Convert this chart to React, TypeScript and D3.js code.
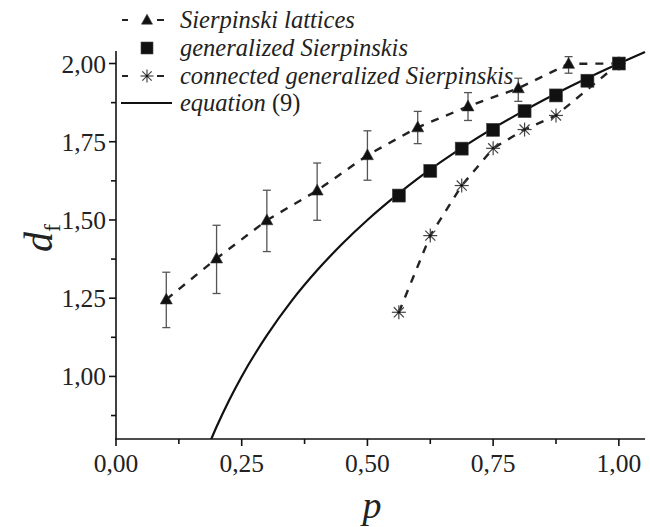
import React from "react";
import * as d3 from "d3";

const latticeP = [0.1, 0.2, 0.3, 0.4, 0.5, 0.6, 0.7, 0.8, 0.9, 1.0];
const latticeD = [1.246, 1.377, 1.499, 1.594, 1.707, 1.796, 1.863, 1.921, 1.999, 2.0];
const latticeLo = [1.156, 1.265, 1.399, 1.499, 1.627, 1.744, 1.818, 1.879, 1.969, 2.0];
const latticeHi = [1.333, 1.483, 1.595, 1.682, 1.785, 1.847, 1.907, 1.953, 2.022, 2.0];

const genP = [0.5625, 0.625, 0.6875, 0.75, 0.8125, 0.875, 0.9375, 1.0];
const genD = [1.578, 1.657, 1.728, 1.788, 1.848, 1.898, 1.945, 2.0];

const connP = [0.5625, 0.625, 0.6875, 0.75, 0.8125, 0.875, 1.0];
const connD = [1.205, 1.45, 1.61, 1.729, 1.789, 1.834, 2.0];

const eqP = [0.189, 0.2, 0.225, 0.25, 0.3, 0.35, 0.4, 0.45, 0.5, 0.5625, 0.6, 0.7, 0.8, 0.9, 1.0, 1.052];
const eqD = [0.798, 0.839, 0.924, 1.0, 1.131, 1.243, 1.339, 1.424, 1.5, 1.585, 1.632, 1.743, 1.839, 1.924, 2.0, 2.037];

const xTicks = [0, 0.25, 0.5, 0.75, 1.0];
const xTickLabels = ["0,00", "0,25", "0,50", "0,75", "1,00"];
const xMinor = [0.125, 0.375, 0.625, 0.875];
const yTicks = [1.0, 1.25, 1.5, 1.75, 2.0];
const yTickLabels = ["1,00", "1,25", "1,50", "1,75", "2,00"];
const yMinor = [0.875, 1.125, 1.375, 1.625, 1.875];

const legendLabels = ["Sierpinski lattices", "generalized Sierpinskis", "connected generalized Sierpinskis", "equation"];

const tf = { fontFamily: '"Liberation Serif", monospace' };

const Triangle = ({ x, y, s = 6 }: { x: number; y: number; s?: number }) => (
  <path d={`M${x},${y - s * 1.05} L${x + s},${y + s * 0.75} L${x - s},${y + s * 0.75} Z`} fill="#111" stroke="#333" strokeWidth={0.6} />
);
const Square = ({ x, y, s = 6.5 }: { x: number; y: number; s?: number }) => (
  <rect x={x - s} y={y - s} width={2 * s} height={2 * s} fill="#111" stroke="#444" strokeWidth={0.6} />
);
const Asterisk = ({ x, y, r = 7 }: { x: number; y: number; r?: number }) => {
  const d = r * 0.72;
  return (
    <g stroke="#444" strokeWidth={1.2}>
      <line x1={x - r} y1={y} x2={x + r} y2={y} />
      <line x1={x} y1={y - r} x2={x} y2={y + r} />
      <line x1={x - d} y1={y - d} x2={x + d} y2={y + d} />
      <line x1={x - d} y1={y + d} x2={x + d} y2={y - d} />
      <circle cx={x} cy={y} r={1.3} fill="#111" stroke="none" />
    </g>
  );
};

export default function App() {
  const x = d3.scaleLinear().domain([0, 1.052]).range([116, 645]);
  const y = d3.scaleLinear().domain([0.8, 2.04]).range([439, 51]);

  const line = d3.line<[number, number]>().x((d) => x(d[0])).y((d) => y(d[1]));
  const smooth = d3
    .line<[number, number]>()
    .x((d) => x(d[0]))
    .y((d) => y(d[1]))
    .curve(d3.curveMonotoneX);

  const latPts = latticeP.map((p, i) => [p, latticeD[i]] as [number, number]);
  const genPts = genP.map((p, i) => [p, genD[i]] as [number, number]);
  const connPts = connP.map((p, i) => [p, connD[i]] as [number, number]);
  const eqPts = eqP.map((p, i) => [p, eqD[i]] as [number, number]);

  const legY = [20, 48, 76, 103];
  const legSymX = 147;
  const legTextX = 180;

  return (
    <svg width={650} height={527} style={{ position: "absolute", left: 0, top: 0, background: "#fff" }}>
      <defs>
        <clipPath id="plot">
          <rect x={116} y={40} width={534} height={399} />
        </clipPath>
      </defs>

      <g clipPath="url(#plot)">
        <path d={smooth(eqPts) || ""} fill="none" stroke="#111" strokeWidth={2.2} />
      </g>

      <path d={line(latPts) || ""} fill="none" stroke="#222" strokeWidth={2.4} strokeDasharray="8,8" />
      <path d={line(connPts) || ""} fill="none" stroke="#222" strokeWidth={2.4} strokeDasharray="8,8" />

      <g stroke="#555" strokeWidth={1.3}>
        {latticeP.slice(0, 9).map((p, i) => (
          <g key={i}>
            <line x1={x(p)} x2={x(p)} y1={y(latticeLo[i])} y2={y(latticeHi[i])} />
            <line x1={x(p) - 4} x2={x(p) + 4} y1={y(latticeLo[i])} y2={y(latticeLo[i])} />
            <line x1={x(p) - 4} x2={x(p) + 4} y1={y(latticeHi[i])} y2={y(latticeHi[i])} />
          </g>
        ))}
      </g>

      {connPts.map((d, i) => (
        <Asterisk key={"a" + i} x={x(d[0])} y={y(d[1])} />
      ))}
      {latPts.slice(0, 9).map((d, i) => (
        <Triangle key={"t" + i} x={x(d[0])} y={y(d[1])} />
      ))}
      {genPts.map((d, i) => (
        <Square key={"s" + i} x={x(d[0])} y={y(d[1])} />
      ))}

      <g stroke="#111" strokeWidth={1.6}>
        <line x1={116} x2={116} y1={51} y2={439.8} />
        <line x1={115.2} x2={645} y1={439} y2={439} />
        {xTicks.map((t) => (
          <line key={"xt" + t} x1={x(t)} x2={x(t)} y1={439} y2={446} />
        ))}
        {xMinor.map((t) => (
          <line key={"xm" + t} x1={x(t)} x2={x(t)} y1={439} y2={444} />
        ))}
        {yTicks.map((t) => (
          <line key={"yt" + t} x1={109} x2={116} y1={y(t)} y2={y(t)} />
        ))}
        {yMinor.map((t) => (
          <line key={"ym" + t} x1={111} x2={116} y1={y(t)} y2={y(t)} />
        ))}
      </g>

      {xTicks.map((t, i) => (
        <text key={"xl" + t} x={x(t)} y={472} fontSize={25.5} fill="#222" textAnchor="middle" style={tf}>
          {xTickLabels[i]}
        </text>
      ))}
      {yTicks.map((t, i) => (
        <text key={"yl" + t} x={106} y={y(t) + 9} fontSize={25.5} fill="#222" textAnchor="end" style={tf}>
          {yTickLabels[i]}
        </text>
      ))}

      <text x={372} y={518} fontSize={38} fontStyle="italic" textAnchor="middle" fill="#222" style={tf}>
        p
      </text>
      <text transform="translate(52,238) rotate(-90)" x={0} y={0} fontSize={40} fontStyle="italic" textAnchor="middle" fill="#222" style={tf}>
        d<tspan fontSize={24} fontStyle="normal" dy={8}>f</tspan>
      </text>

      <line x1={122} x2={128} y1={legY[0]} y2={legY[0]} stroke="#222" strokeWidth={2} />
      <Triangle x={legSymX} y={legY[0]} s={5.5} />
      <line x1={157} x2={164} y1={legY[0]} y2={legY[0]} stroke="#222" strokeWidth={2} />
      <text x={legTextX} y={legY[0] + 8} fontSize={24.5} fontStyle="italic" fill="#222" style={tf}>{legendLabels[0]}</text>
      <Square x={legSymX} y={legY[1]} s={6} />
      <text x={legTextX} y={legY[1] + 8} fontSize={24.5} fontStyle="italic" fill="#222" style={tf}>{legendLabels[1]}</text>
      <line x1={122} x2={128} y1={legY[2]} y2={legY[2]} stroke="#222" strokeWidth={2} />
      <Asterisk x={legSymX} y={legY[2]} r={6.5} />
      <line x1={157} x2={164} y1={legY[2]} y2={legY[2]} stroke="#222" strokeWidth={2} />
      <text x={legTextX} y={legY[2] + 8} fontSize={24.5} fontStyle="italic" fill="#222" style={tf}>{legendLabels[2]}</text>
      <line x1={121} x2={172} y1={legY[3]} y2={legY[3]} stroke="#111" strokeWidth={2} />
      <text x={legTextX} y={legY[3] + 8} fontSize={24.5} fontStyle="italic" fill="#222" style={tf}>
        {legendLabels[3]} <tspan fontStyle="normal">(9)</tspan>
      </text>
    </svg>
  );
}
